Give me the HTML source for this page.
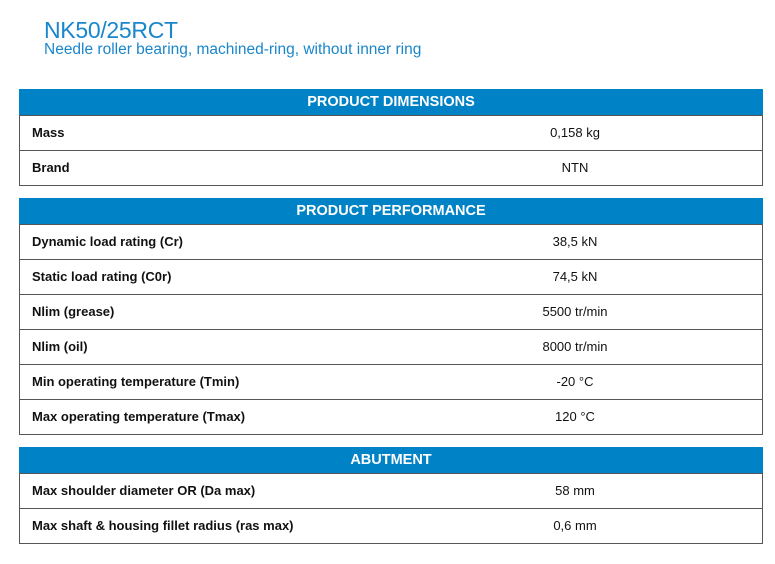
<!DOCTYPE html>
<html><head><meta charset="utf-8"><style>
body{margin:0;width:775px;height:564px;background:#fff;font-family:"Liberation Sans",sans-serif;position:relative;overflow:hidden}
.t{position:absolute;left:44px;top:17px;font-size:23px;color:#1a86cc;letter-spacing:-0.3px}
.s{position:absolute;left:44px;top:41px;font-size:15.5px;color:#1a86cc}
.sec{position:absolute;left:19px;width:744px}
.h{height:26px;background:#0082c6;color:#fff;font-weight:bold;font-size:14.5px;text-align:center;line-height:26px}
.r{height:34px;border:1px solid #555;border-top:none;box-sizing:content-box;position:relative;font-size:13px;color:#111;line-height:34px}
.r:first-of-type{border-top:1px solid #555}
.l{position:absolute;left:12px;font-weight:bold}
.v{position:absolute;left:390px;width:330px;text-align:center}
</style></head><body>
<div class="t">NK50/25RCT</div>
<div class="s">Needle roller bearing, machined-ring, without inner ring</div>

<div class="sec" style="top:89px">
<div class="h">PRODUCT DIMENSIONS</div>
<div class="r" style="border-top:1px solid #555"><span class="l">Mass</span><span class="v">0,158 kg</span></div>
<div class="r"><span class="l">Brand</span><span class="v">NTN</span></div>
</div>

<div class="sec" style="top:198px">
<div class="h">PRODUCT PERFORMANCE</div>
<div class="r" style="border-top:1px solid #555"><span class="l">Dynamic load rating (Cr)</span><span class="v">38,5 kN</span></div>
<div class="r"><span class="l">Static load rating (C0r)</span><span class="v">74,5 kN</span></div>
<div class="r"><span class="l">Nlim (grease)</span><span class="v">5500 tr/min</span></div>
<div class="r"><span class="l">Nlim (oil)</span><span class="v">8000 tr/min</span></div>
<div class="r"><span class="l">Min operating temperature (Tmin)</span><span class="v">-20 °C</span></div>
<div class="r"><span class="l">Max operating temperature (Tmax)</span><span class="v">120 °C</span></div>
</div>

<div class="sec" style="top:447px">
<div class="h">ABUTMENT</div>
<div class="r" style="border-top:1px solid #555"><span class="l">Max shoulder diameter OR (Da max)</span><span class="v">58 mm</span></div>
<div class="r"><span class="l">Max shaft &amp; housing fillet radius (ras max)</span><span class="v">0,6 mm</span></div>
</div>
</body></html>
